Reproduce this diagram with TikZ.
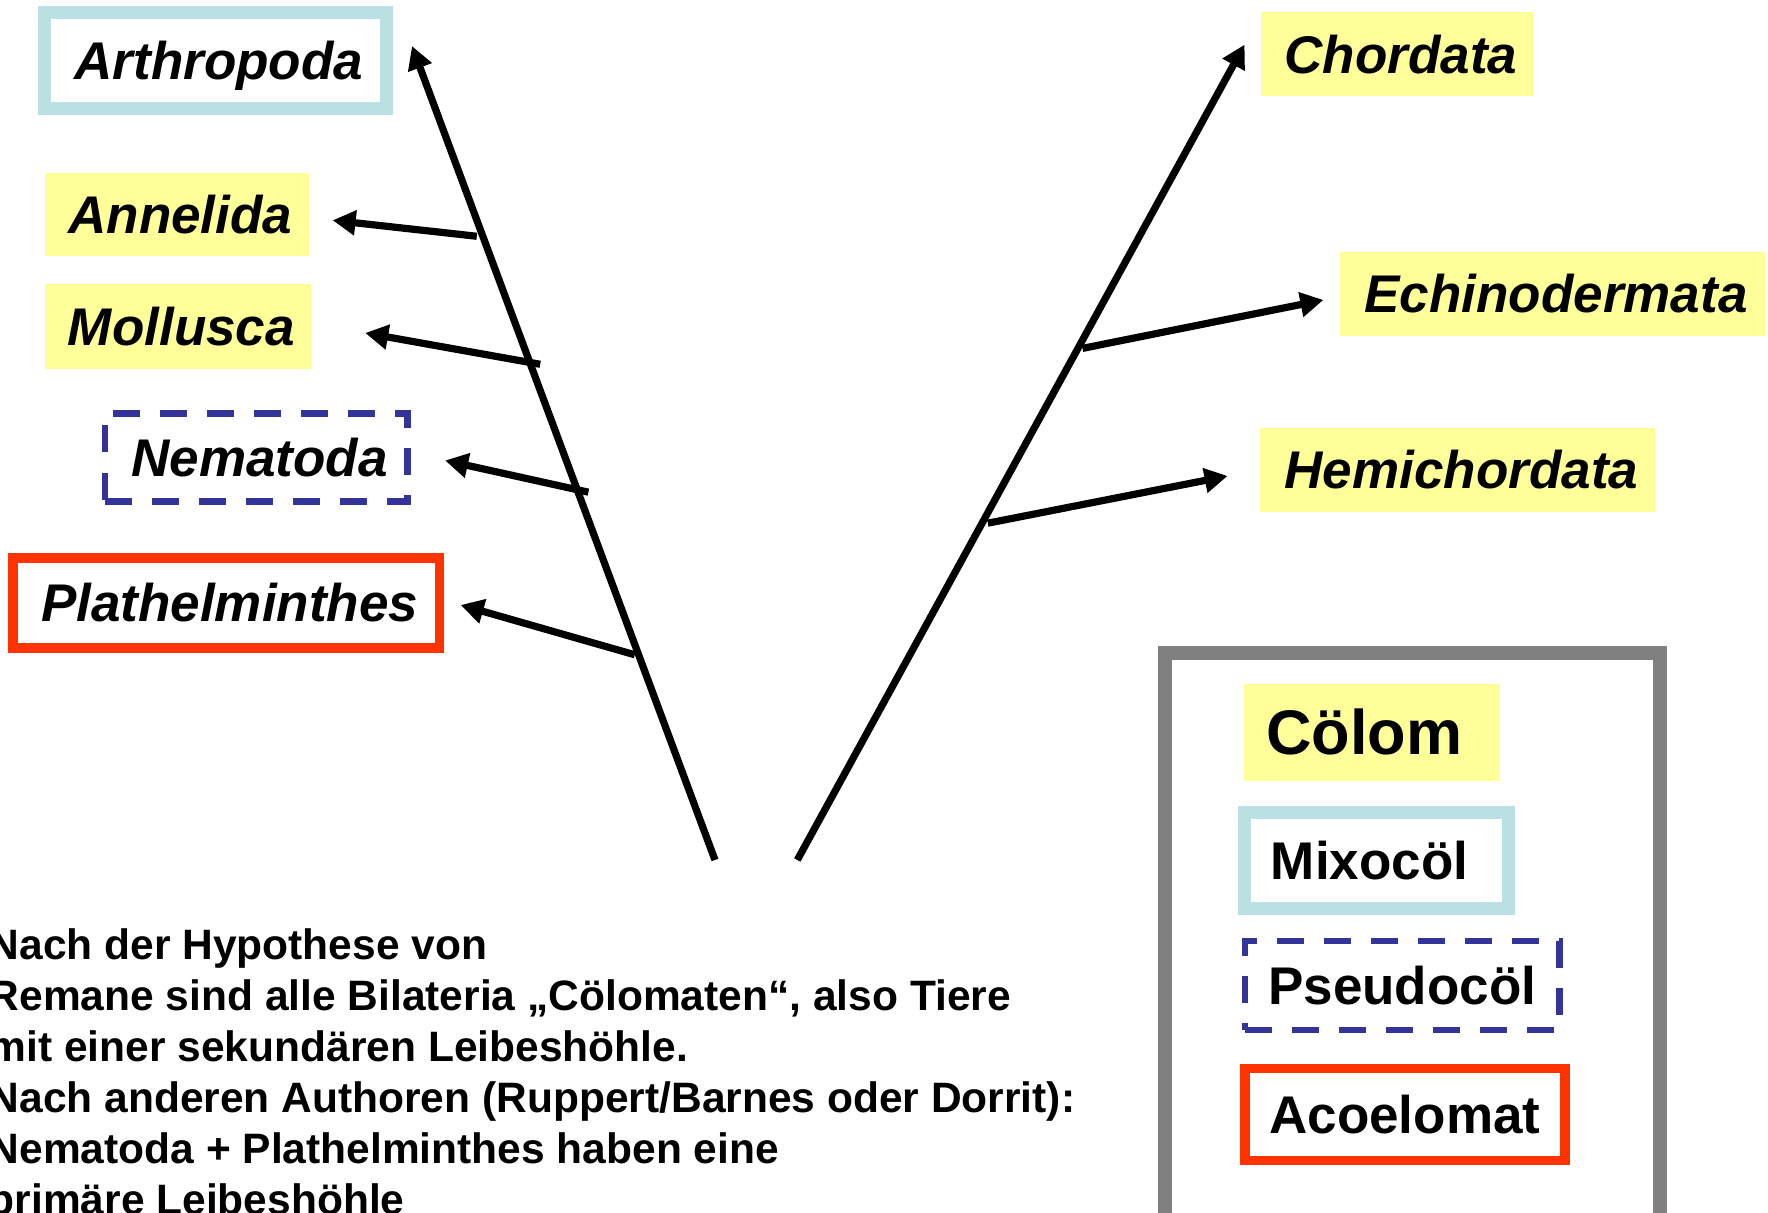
\documentclass[tikz,border=0pt]{standalone}
\usepackage{fontspec}
\setmainfont{Liberation Sans}
\usetikzlibrary{arrows.meta}

\definecolor{taxonyellow}{HTML}{FFFF99}
\definecolor{mixoblue}{HTML}{BBE0E3}
\definecolor{acoelred}{HTML}{FF3300}
\definecolor{pseudonavy}{HTML}{333399}
\definecolor{legendgrey}{HTML}{808080}

\begin{document}
\begin{tikzpicture}[x=0.01cm, y=-0.01cm,
  taxon/.style={font=\fontsize{15.08pt}{18pt}\selectfont\bfseries\itshape,
    text height=0.379cm, text depth=0pt, inner sep=0pt, align=center,
    execute at begin node={\hspace*{0.07cm}}},
  coelom/.style={fill=taxonyellow},
  mixo/.style={draw=mixoblue, line width=0.13cm},
  pseudo/.style={draw=pseudonavy, line width=0.065cm, dash pattern=on 0.27cm off 0.2cm},
  acoel/.style={draw=acoelred, line width=0.098cm},
  keytext/.style={font=\fontsize{15.08pt}{18pt}\selectfont\bfseries,
    text height=0.379cm, text depth=0pt, inner sep=0pt},
  branch/.style={line width=0.072cm, -{Triangle[length=0.23cm,width=0.24cm]}},
  legendframe/.style={draw=legendgrey, line width=0.14cm},
  notes/.style={font=\fontsize{12.09pt}{14.51pt}\selectfont\bfseries,
    align=left, inner sep=0pt},
]
\useasboundingbox (0,0) rectangle (1768,1213);
\clip (0,0) rectangle (1768,1213);
\fill[white] (0,0) rectangle (1768,1213);

% --- taxa on the protostome side
\node[taxon, mixo, minimum width=3.416cm, minimum height=0.954cm] (arthropoda) at (215.4,60.7) {Arthropoda};
\node[taxon, coelom, minimum width=2.643cm, minimum height=0.833cm] (annelida) at (176.8,214.2) {Annelida};
\node[taxon, coelom, minimum width=2.666cm, minimum height=0.846cm] (mollusca) at (177.9,326.3) {Mollusca};
\node[taxon, pseudo, minimum width=3.025cm, minimum height=0.88cm] (nematoda) at (256.2,457.5) {Nematoda};
\node[taxon, acoel, minimum width=4.264cm, minimum height=0.899cm] (plathelminthes) at (226.1,602.7) {Plathelminthes};

% --- taxa on the deuterostome side
\node[taxon, coelom, minimum width=2.723cm, minimum height=0.832cm] (chordata) at (1397.4,54.1) {Chordata};
\node[taxon, coelom, minimum width=4.249cm, minimum height=0.836cm] (echinodermata) at (1552.5,293.9) {Echinodermata};
\node[taxon, coelom, minimum width=3.949cm, minimum height=0.839cm] (hemichordata) at (1457.9,469.8) {Hemichordata};

% --- tree: two main stems with side branches
\coordinate (leftBase) at (715,860);
\coordinate (leftTip) at (412,46);
\coordinate (annStart) at (476.8,236.3);
\coordinate (annTip) at (332.6,220.3);
\coordinate (molStart) at (540.2,364.3);
\coordinate (molTip) at (365.2,333);
\coordinate (nemStart) at (588.4,492.2);
\coordinate (nemTip) at (445.1,460.5);
\coordinate (plaStart) at (634.8,654.8);
\coordinate (plaTip) at (460.7,605);
\coordinate (rightBase) at (797.3,860);
\coordinate (rightTip) at (1244.6,44.6);
\coordinate (echStart) at (1082.5,348.4);
\coordinate (echTip) at (1323.4,300);
\coordinate (hemStart) at (987.8,523.2);
\coordinate (hemTip) at (1227.6,476);

\draw[branch] (leftBase) -- (leftTip);
\draw[branch] (annStart) -- (annTip);
\draw[branch] (molStart) -- (molTip);
\draw[branch] (nemStart) -- (nemTip);
\draw[branch] (plaStart) -- (plaTip);
\draw[branch] (rightBase) -- (rightTip);
\draw[branch] (echStart) -- (echTip);
\draw[branch] (hemStart) -- (hemTip);

% --- legend of body cavity types
\draw[legendframe] (1165,652.7) rectangle (1660.4,1250);
\node[keytext, coelom, font=\fontsize{17.92pt}{21pt}\selectfont\bfseries, text height=0.451cm,
  text width=2.123cm, inner xsep=0.22cm, align=left, minimum height=0.967cm] (colom) at (1372.25,732.25) {Cölom};
\node[keytext, mixo, text width=2.11cm, inner xsep=0.264cm, align=left,
  minimum height=0.963cm] (mixocol) at (1376.5,860.45) {Mixocöl};
\node[keytext, pseudo, minimum width=3.14cm, minimum height=0.89cm] (pseudocol) at (1402.25,985.5) {Pseudocöl};
\node[keytext, acoel, minimum width=3.202cm, minimum height=0.92cm] (acoelomat) at (1404.85,1114.55) {Acoelomat};

% --- explanatory note
\node[notes, anchor=north west] (hypothesis) at (-12,927.5) {Nach der Hypothese von\\
Remane sind alle Bilateria „Cölomaten“, also Tiere\\
mit einer sekundären Leibeshöhle.\\
Nach anderen Authoren (Ruppert/Barnes oder Dorrit):\\
Nematoda + Plathelminthes haben eine\\
primäre Leibeshöhle};
\end{tikzpicture}
\end{document}
